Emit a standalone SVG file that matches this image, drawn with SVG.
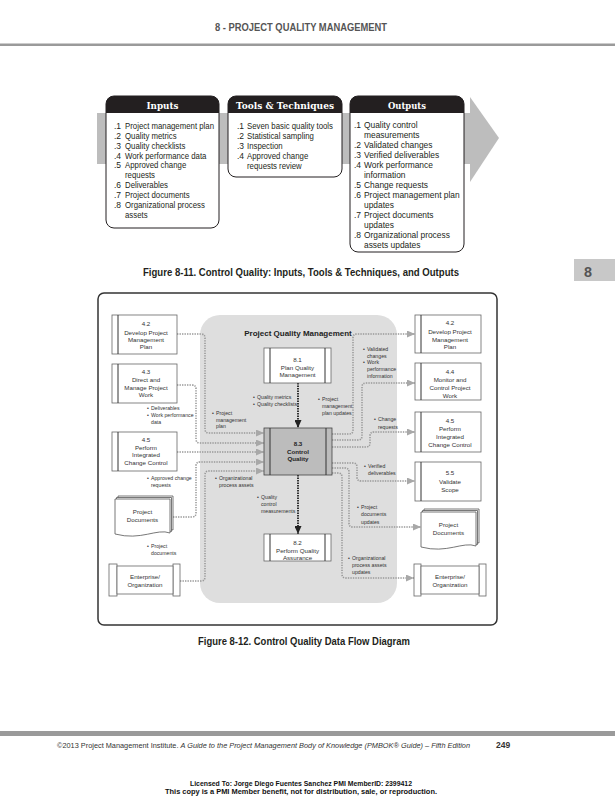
<svg xmlns="http://www.w3.org/2000/svg" width="615" height="800" viewBox="0 0 615 800">
<defs>
<style>
.hdr{font-family:"Liberation Sans",Arial,sans-serif;font-weight:bold;fill:#555}
.it{font-family:"Liberation Sans",Arial,sans-serif;font-size:8.5px;fill:#231f20}
.ith{font-family:"DejaVu Serif",serif;font-weight:bold;font-size:9px;fill:#fff;text-anchor:middle}
.cap{font-family:"Liberation Sans",Arial,sans-serif;font-weight:bold;font-size:11px;fill:#231f20}
.bx{fill:#fff;stroke:#231f20;stroke-width:1}
.hd{fill:#231f20}
.pb{fill:#fff;stroke:#666;stroke-width:0.8}
.st{stroke:#333;stroke-width:1}
.t{font-family:"Liberation Sans",Arial,sans-serif;font-size:6.2px;fill:#333;text-anchor:middle}
.tb{font-weight:bold;fill:#222}
.ttl{font-family:"Liberation Sans",Arial,sans-serif;font-size:8px;font-weight:bold;fill:#222;text-anchor:middle}
.l{font-family:"Liberation Sans",Arial,sans-serif;font-size:5.2px;fill:#333}
.cn{fill:none;stroke:#999;stroke-width:1.6;stroke-dasharray:1.4 1.1}
.dk{fill:none;stroke:#222;stroke-width:1.8;stroke-dasharray:1.4 1.1}
.doc{fill:#fff;stroke:#555;stroke-width:0.8}
.ft{font-family:"Liberation Sans",Arial,sans-serif;font-size:7px;fill:#333}
.pg{font-family:"Liberation Sans",Arial,sans-serif;font-size:8.5px;font-weight:bold;fill:#333}
.lic{font-family:"Liberation Sans",Arial,sans-serif;font-weight:bold;font-size:7px;fill:#111;text-anchor:middle}
</style>
<marker id="ag" viewBox="0 0 8 7" markerWidth="8" markerHeight="7" refX="8" refY="3.5" orient="auto" markerUnits="userSpaceOnUse"><path d="M0,0L8,3.5L0,7z" fill="#a8a8a8"/></marker>
<marker id="ak" viewBox="0 0 8 7" markerWidth="8" markerHeight="7" refX="8" refY="3.5" orient="auto" markerUnits="userSpaceOnUse"><path d="M0,0L8,3.5L0,7z" fill="#222"/></marker>
<path id="docp" d="M0,0H55V34C42,29 26,42 0,35Z"/>
</defs>
<rect x="0" y="0" width="615" height="800" fill="#fff"/>

<!-- page header -->
<text class="hdr" x="215" y="31" font-size="10" textLength="172" lengthAdjust="spacingAndGlyphs">8 - PROJECT QUALITY MANAGEMENT</text>
<rect x="0" y="43.5" width="615" height="2.5" fill="#9a9a9a"/>

<!-- Figure 8-11 ITTO -->
<g id="itto">
<rect x="97" y="113" width="374" height="51" fill="#bdbdbd"/>
<polygon points="470,97 499,138 470,182" fill="#bdbdbd"/>

<g id="inputs">
<rect class="bx" x="106" y="96" width="113" height="132" rx="8"/>
<path class="hd" d="M106,113V104A8,8 0 0 1 114,96H211A8,8 0 0 1 219,104V113Z"/>
<text class="ith" x="162.5" y="109" textLength="32" lengthAdjust="spacingAndGlyphs">Inputs</text>
<g class="it">
<text x="114" y="129">.1</text><text x="114" y="139">.2</text><text x="114" y="149">.3</text><text x="114" y="159">.4</text><text x="114" y="168">.5</text><text x="114" y="188">.6</text><text x="114" y="198">.7</text><text x="114" y="208">.8</text>
</g>
<g class="it" transform="translate(125,0) scale(0.92,1)">
<text x="0" y="129">Project management plan</text>
<text x="0" y="139">Quality metrics</text>
<text x="0" y="149">Quality checklists</text>
<text x="0" y="159">Work performance data</text>
<text x="0" y="168">Approved change</text>
<text x="0" y="178">requests</text>
<text x="0" y="188">Deliverables</text>
<text x="0" y="198">Project documents</text>
<text x="0" y="208">Organizational process</text>
<text x="0" y="218">assets</text>
</g>
</g>

<g id="tools">
<rect class="bx" x="228" y="96" width="114" height="81" rx="8"/>
<path class="hd" d="M228,113V104A8,8 0 0 1 236,96H334A8,8 0 0 1 342,104V113Z"/>
<text class="ith" x="285" y="109" textLength="98" lengthAdjust="spacingAndGlyphs">Tools &amp; Techniques</text>
<g class="it">
<text x="237" y="129">.1</text><text x="237" y="139">.2</text><text x="237" y="149">.3</text><text x="237" y="159">.4</text>
</g>
<g class="it" transform="translate(247,0) scale(0.92,1)">
<text x="0" y="129">Seven basic quality tools</text>
<text x="0" y="139">Statistical sampling</text>
<text x="0" y="149">Inspection</text>
<text x="0" y="159">Approved change</text>
<text x="0" y="169">requests review</text>
</g>
</g>

<g id="outputs">
<rect class="bx" x="350" y="96" width="114" height="156" rx="8"/>
<path class="hd" d="M350,113V104A8,8 0 0 1 358,96H456A8,8 0 0 1 464,104V113Z"/>
<text class="ith" x="407" y="109" textLength="38" lengthAdjust="spacingAndGlyphs">Outputs</text>
<g class="it">
<text x="354" y="128">.1</text><text x="354" y="148">.2</text><text x="354" y="158">.3</text><text x="354" y="168">.4</text><text x="354" y="188">.5</text><text x="354" y="198">.6</text><text x="354" y="218">.7</text><text x="354" y="238">.8</text>
</g>
<g class="it" transform="translate(364,0) scale(0.99,1)">
<text x="0" y="128">Quality control</text>
<text x="0" y="138">measurements</text>
<text x="0" y="148">Validated changes</text>
<text x="0" y="158">Verified deliverables</text>
<text x="0" y="168">Work performance</text>
<text x="0" y="178">information</text>
<text x="0" y="188">Change requests</text>
<text x="0" y="198">Project management plan</text>
<text x="0" y="208">updates</text>
<text x="0" y="218">Project documents</text>
<text x="0" y="228">updates</text>
<text x="0" y="238">Organizational process</text>
<text x="0" y="248">assets updates</text>
</g>
</g>
</g>

<text class="cap" x="143" y="276" textLength="316" lengthAdjust="spacingAndGlyphs">Figure 8-11. Control Quality: Inputs, Tools &amp; Techniques, and Outputs</text>

<g id="tab">
<rect x="574" y="259" width="41" height="22" fill="#c8c8c8"/>
<text class="hdr" x="584" y="277" style="font-size:15px" textLength="8" lengthAdjust="spacingAndGlyphs">8</text>
</g>

<!-- Figure 8-12 DFD -->
<rect x="98" y="293" width="399" height="332" rx="6" fill="none" stroke="#333" stroke-width="1.5"/>
<rect x="200" y="315" width="197" height="288" rx="20" fill="#dedede"/>
<text class="ttl" x="298" y="336">Project Quality Management</text>

<g id="connectors">
<path class="cn" marker-end="url(#ag)" d="M177,334H201Q205,334 205,338V429Q205,433 209,433H264"/>
<path class="cn" marker-end="url(#ag)" d="M177,385H192Q196,385 196,389V439Q196,443 200,443H264"/>
<path class="cn" marker-end="url(#ag)" d="M177,452H264"/>
<path class="cn" marker-end="url(#ag)" d="M173,517H192Q196,517 196,513V466Q196,462 200,462H264"/>
<path class="cn" marker-end="url(#ag)" d="M180,581H201Q205,581 205,577V475Q205,471 209,471H264"/>
<path class="dk" marker-end="url(#ak)" d="M298,383V428"/>
<path class="dk" marker-end="url(#ak)" d="M298,475V534"/>
<path class="cn" marker-end="url(#ag)" d="M332,434H349Q353,434 353,430V338Q353,334 357,334H415"/>
<path class="cn" marker-end="url(#ag)" d="M332,440H358Q362,440 362,436V387Q362,383 366,383H415"/>
<path class="cn" marker-end="url(#ag)" d="M332,447H366Q370,447 370,443V436Q370,432 374,432H415"/>
<path class="cn" marker-end="url(#ag)" d="M332,463H353Q357,463 357,467V477Q357,481 361,481H415"/>
<path class="cn" marker-end="url(#ag)" d="M332,468H345Q349,468 349,472V523Q349,527 353,527H421"/>
<path class="cn" marker-end="url(#ag)" d="M332,473H338Q342,473 342,477V574Q342,578 346,578H414"/>
</g>

<g id="labels" class="l">
<text x="147" y="410">•</text><text x="151" y="410">Deliverables</text>
<text x="147" y="417">•</text><text x="151" y="417">Work performance</text>
<text x="151" y="424">data</text>
<text x="212" y="415">•</text><text x="216" y="415">Project</text>
<text x="216" y="422">management</text>
<text x="216" y="428">plan</text>
<text x="253" y="399">•</text><text x="257" y="399">Quality metrics</text>
<text x="253" y="406">•</text><text x="257" y="406">Quality checklists</text>
<text x="147" y="480">•</text><text x="151" y="480">Approved change</text>
<text x="151" y="487">requests</text>
<text x="215" y="480">•</text><text x="219" y="480">Organizational</text>
<text x="219" y="487">process assets</text>
<text x="257" y="499">•</text><text x="261" y="499">Quality</text>
<text x="261" y="506">control</text>
<text x="261" y="513">measurements</text>
<text x="147" y="548">•</text><text x="151" y="548">Project</text>
<text x="151" y="555">documents</text>
<text x="363" y="351">•</text><text x="367" y="351">Validated</text>
<text x="367" y="358">changes</text>
<text x="363" y="364">•</text><text x="367" y="364">Work</text>
<text x="367" y="371">performance</text>
<text x="367" y="378">information</text>
<text x="318" y="401">•</text><text x="322" y="401">Project</text>
<text x="322" y="408">management</text>
<text x="322" y="415">plan updates</text>
<text x="374" y="421">•</text><text x="378" y="421">Change</text>
<text x="378" y="429">requests</text>
<text x="364" y="468">•</text><text x="368" y="468">Verified</text>
<text x="368" y="475">deliverables</text>
<text x="357" y="509">•</text><text x="361" y="509">Project</text>
<text x="361" y="516">documents</text>
<text x="361" y="524">updates</text>
<text x="348" y="560">•</text><text x="352" y="560">Organizational</text>
<text x="352" y="567">process assets</text>
<text x="352" y="574">updates</text>
</g>

<g id="n42L"><rect class="pb" x="112" y="315" width="65" height="39"/><line class="st" x1="118" y1="315" x2="118" y2="354"/>
<text class="t" x="146" y="326">4.2</text><text class="t" x="146" y="335">Develop Project</text><text class="t" x="146" y="342">Management</text><text class="t" x="146" y="349">Plan</text></g>
<g id="n43"><rect class="pb" x="112" y="364" width="65" height="39"/><line class="st" x1="118" y1="364" x2="118" y2="403"/>
<text class="t" x="146" y="374">4.3</text><text class="t" x="146" y="382">Direct and</text><text class="t" x="146" y="390">Manage Project</text><text class="t" x="146" y="397">Work</text></g>
<g id="n45L"><rect class="pb" x="112" y="432" width="65" height="39"/><line class="st" x1="118" y1="432" x2="118" y2="471"/>
<text class="t" x="146" y="442">4.5</text><text class="t" x="146" y="450">Perform</text><text class="t" x="146" y="457">Integrated</text><text class="t" x="146" y="465">Change Control</text></g>
<g id="docL">
<use href="#docp" class="doc" x="118" y="496"/><use href="#docp" class="doc" x="116.5" y="497.5"/><use href="#docp" class="doc" x="115" y="499"/>
<text class="t" x="142.5" y="514">Project</text><text class="t" x="142.5" y="522">Documents</text></g>
<g id="entL">
<rect class="pb" x="109" y="564" width="8" height="32"/><rect class="pb" x="173" y="564" width="7" height="32"/><rect class="pb" x="117" y="566" width="56" height="28"/>
<text class="t" x="145" y="579">Enterprise/</text><text class="t" x="145" y="587">Organization</text></g>

<g id="n81"><rect class="pb" x="264" y="348" width="67" height="35"/><line class="st" x1="270" y1="348" x2="270" y2="383"/><line class="st" x1="325" y1="348" x2="325" y2="383"/>
<text class="t" x="297.5" y="362">8.1</text><text class="t" x="297.5" y="370">Plan Quality</text><text class="t" x="297.5" y="377">Management</text></g>
<g id="n83"><rect x="264" y="428" width="68" height="47" fill="#bcbcbc" stroke="#444" stroke-width="0.8"/><line class="st" x1="270" y1="428" x2="270" y2="475"/><line class="st" x1="326" y1="428" x2="326" y2="475"/>
<text class="t tb" x="298" y="446">8.3</text><text class="t tb" x="298" y="454">Control</text><text class="t tb" x="298" y="461">Quality</text></g>
<g id="n82"><rect class="pb" x="264" y="534" width="67" height="27"/><line class="st" x1="270" y1="534" x2="270" y2="561"/><line class="st" x1="325" y1="534" x2="325" y2="561"/>
<text class="t" x="297.5" y="545">8.2</text><text class="t" x="297.5" y="553">Perform Quality</text><text class="t" x="297.5" y="560">Assurance</text></g>

<g id="n42R"><rect class="pb" x="415" y="315" width="66" height="38"/><line class="st" x1="421" y1="315" x2="421" y2="353"/>
<text class="t" x="450" y="325">4.2</text><text class="t" x="450" y="334">Develop Project</text><text class="t" x="450" y="342">Management</text><text class="t" x="450" y="349">Plan</text></g>
<g id="n44"><rect class="pb" x="415" y="363" width="66" height="37"/><line class="st" x1="421" y1="363" x2="421" y2="400"/>
<text class="t" x="450" y="374">4.4</text><text class="t" x="450" y="382">Monitor and</text><text class="t" x="450" y="390">Control Project</text><text class="t" x="450" y="398">Work</text></g>
<g id="n45R"><rect class="pb" x="415" y="412" width="66" height="40"/><line class="st" x1="421" y1="412" x2="421" y2="452"/>
<text class="t" x="450" y="423">4.5</text><text class="t" x="450" y="431">Perform</text><text class="t" x="450" y="439">Integrated</text><text class="t" x="450" y="447">Change Control</text></g>
<g id="n55"><rect class="pb" x="415" y="462" width="66" height="39"/><line class="st" x1="421" y1="462" x2="421" y2="501"/>
<text class="t" x="450" y="475">5.5</text><text class="t" x="450" y="484">Validate</text><text class="t" x="450" y="492">Scope</text></g>
<g id="docR">
<use href="#docp" class="doc" x="424" y="509"/><use href="#docp" class="doc" x="422.5" y="510.5"/><use href="#docp" class="doc" x="421" y="512"/>
<text class="t" x="448.5" y="527">Project</text><text class="t" x="448.5" y="535">Documents</text></g>
<g id="entR">
<rect class="pb" x="414" y="564" width="7" height="32"/><rect class="pb" x="479" y="564" width="7" height="32"/><rect class="pb" x="421" y="566" width="58" height="28"/>
<text class="t" x="450" y="579">Enterprise/</text><text class="t" x="450" y="587">Organization</text></g>

<text class="cap" x="198" y="645" textLength="212" lengthAdjust="spacingAndGlyphs">Figure 8-12. Control Quality Data Flow Diagram</text>

<!-- footer -->
<rect x="0" y="731" width="615" height="5" fill="#9a9a9a"/>
<text class="ft" x="57" y="748" textLength="413" lengthAdjust="spacingAndGlyphs">©2013 Project Management Institute. <tspan font-style="italic">A Guide to the Project Management Body of Knowledge (PMBOK® Guide) – Fifth Edition</tspan></text>
<text class="pg" x="496" y="748">249</text>
<text class="lic" x="301" y="786" textLength="222" lengthAdjust="spacingAndGlyphs">Licensed To: Jorge Diego Fuentes Sanchez PMI MemberID: 2399412</text>
<text class="lic" x="301" y="794" textLength="272" lengthAdjust="spacingAndGlyphs">This copy is a PMI Member benefit, not for distribution, sale, or reproduction.</text>
</svg>
